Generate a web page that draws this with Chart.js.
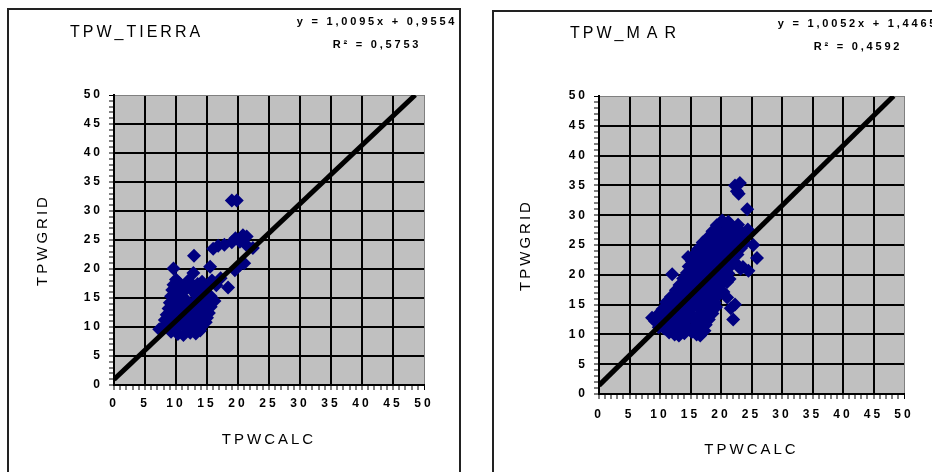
<!DOCTYPE html>
<html>
<head>
<meta charset="utf-8">
<script src="https://cdn.jsdelivr.net/npm/chart.js@4/dist/chart.umd.min.js"></script>
<style>
  body { margin: 0; background: #fff; width: 932px; height: 472px; overflow: hidden; position: relative;
         font-family: "Liberation Sans", Arial, sans-serif; color: #000; }
  .frame { position: absolute; border: 2px solid #222; box-sizing: border-box; }
  .panel { position: absolute; top: 0; }
  .title { position: absolute; font-size: 16px; letter-spacing: 3px; white-space: nowrap; line-height: 1; }
  .eq { position: absolute; width: 200px; font-size: 11px; font-weight: bold; letter-spacing: 2.8px;
        text-align: center; white-space: nowrap; line-height: 1; }
</style>
</head>
<body>
<div class="frame" style="left:7px; top:8px; width:454px; height:500px;"></div>
<div class="frame" style="left:492px; top:10px; width:500px; height:500px;"></div>

<canvas id="chartTierra" class="panel" style="left:0px;" width="466" height="472"></canvas>
<canvas id="chartMar" class="panel" style="left:470px;" width="462" height="472"></canvas>

<div class="title" style="left:70px; top:24px;">TPW_TIERRA</div>
<div class="eq" style="left:277px; top:16px;">y = 1,0095x + 0,9554</div>
<div class="eq" style="left:277px; top:39px;">R² = 0,5753</div>

<div class="title" style="left:570px; top:25px;">TPW_<span style="letter-spacing:7px">MAR</span></div>
<div class="eq" style="left:758px; top:18px;">y = 1,0052x + 1,4465</div>
<div class="eq" style="left:758px; top:41px;">R² = 0,4592</div>

<script>
// axis range shared by both panels
const axisMin = 0;
const axisMax = 50;
const majorStep = 5;

const xTitle = 'TPWCALC';
const yTitle = 'TPWGRID';

// TPW_TIERRA scatter, [TPWCALC, TPWGRID]
const tierraPoints = [
  [9.2,9.2],[10.3,8.8],[11.2,8.6],[12.3,9.0],[13.2,8.9],[13.9,9.4],
  [7.3,9.6],[8.0,10.1],[9.1,10.3],[10.2,9.9],[11.1,10.4],[12.0,10.0],[13.0,10.3],[14.1,10.1],[14.8,10.8],
  [8.2,11.2],[9.3,11.0],[10.1,11.4],[11.3,11.1],[12.2,11.5],[13.1,11.0],[14.0,11.4],[15.0,11.6],
  [8.5,12.1],[9.4,12.4],[10.4,12.0],[11.2,12.5],[12.3,12.2],[13.3,12.6],[14.2,12.1],[15.3,12.4],
  [8.8,13.2],[9.6,13.5],[10.6,13.1],[11.6,13.4],[12.5,13.0],[13.5,13.6],[14.5,13.2],[15.6,13.5],
  [9.0,14.2],[9.9,14.6],[10.8,14.1],[11.8,14.5],[13.0,14.3],[14.0,14.8],[15.0,14.2],[16.2,14.5],
  [9.2,15.3],[10.0,15.8],[11.0,15.2],[13.3,15.4],[14.5,15.7],[15.6,15.3],
  [9.4,16.4],[10.3,16.8],[11.3,16.2],[12.4,16.5],[14.0,16.3],[15.0,16.9],
  [9.6,17.3],[10.5,17.6],[11.5,17.2],[13.5,17.4],
  [10.0,18.2],[12.0,18.0],[14.2,17.8],
  [9.6,20.1],[12.8,19.3],[12.9,22.3],[15.5,20.4],[15.8,18.0],[16.5,17.2],[17.2,18.4],[18.4,16.8],
  [19.5,19.8],[20.3,20.7],[21.0,21.0],
  [16.0,23.5],[16.8,24.0],[17.8,24.2],[19.0,24.6],[19.6,25.3],[20.3,24.7],[20.8,25.8],[21.4,25.6],
  [22.4,23.6],[21.3,24.2],
  [19.0,31.8],[19.8,31.8]
];
const tierraTrend = [[0, 0.9554], [48.58, 50]];

// TPW_MAR scatter
const marPoints = [
  [13.1,9.8],[16.6,9.8],
  [11.5,10.3],[12.4,10.0],[14.0,10.2],[15.2,10.4],[16.0,10.0],[17.3,10.6],
  [9.8,11.2],[10.7,11.0],[11.8,11.4],[13.0,11.1],[14.2,11.5],[15.3,11.0],[16.4,11.3],[17.5,11.6],
  [9.2,12.2],[10.2,12.5],[11.2,12.0],[12.3,12.4],[13.5,12.1],[14.6,12.6],[15.8,12.3],[16.9,12.0],[18.0,12.5],
  [8.7,12.8],[9.7,13.4],[10.8,13.1],[12.0,13.5],[13.1,13.2],[14.3,13.6],[15.4,13.0],[16.5,13.4],[17.6,13.1],[18.6,13.5],[22.0,12.5],
  [10.4,14.2],[11.5,14.6],[12.6,14.1],[13.8,14.4],[15.0,14.2],[16.1,14.7],[17.2,14.3],[18.3,14.1],[19.2,14.6],[21.6,14.4],
  [11.0,15.4],[12.2,15.2],[13.3,15.6],[14.5,15.1],[15.7,15.5],[16.8,15.2],[17.9,15.6],[19.0,15.3],[22.3,15.0],
  [11.8,16.3],[13.0,16.6],[14.2,16.1],[15.3,16.5],[16.4,16.2],[17.5,16.7],[18.6,16.3],[19.6,16.6],[21.0,16.2],
  [12.6,17.4],[13.7,17.1],[14.9,17.6],[16.0,17.2],[17.1,17.5],[18.2,17.1],[19.3,17.6],[20.4,17.1],
  [13.2,18.3],[14.4,18.6],[15.5,18.2],[16.6,18.5],[17.8,18.2],[18.9,18.7],[20.0,18.4],[21.0,18.8],
  [13.8,19.4],[15.0,19.2],[16.1,19.6],[17.2,19.3],[18.4,19.5],[19.5,19.1],[20.6,19.6],[21.4,19.3],
  [12.0,20.1],[14.4,20.3],[15.5,20.6],[16.7,20.2],[17.8,20.5],[18.9,20.1],[20.0,20.4],[21.2,20.2],[24.5,20.7],[23.6,21.3],
  [14.7,21.4],[15.8,21.2],[17.0,21.6],[18.2,21.3],[19.3,21.6],[20.5,21.2],[21.6,21.5],[23.2,21.0],
  [15.2,22.3],[16.3,22.6],[17.5,22.2],[18.7,22.5],[19.8,22.1],[21.0,22.4],[22.2,22.2],
  [14.6,23.0],[15.6,23.4],[16.8,23.1],[18.0,23.5],[19.2,23.2],[20.4,23.5],[21.5,23.2],[22.7,23.4],[25.9,22.8],
  [16.2,24.3],[17.4,24.1],[18.6,24.5],[19.8,24.2],[21.0,24.4],[22.2,24.1],[23.3,24.5],
  [17.0,25.4],[18.2,25.1],[19.4,25.5],[20.6,25.2],[21.8,25.5],[23.0,25.1],[24.0,25.4],[25.3,25.0],
  [17.8,26.2],[19.0,26.5],[20.2,26.2],[21.4,26.6],[22.6,26.3],[23.8,26.1],
  [18.6,27.3],[19.7,27.1],[20.8,27.5],[22.0,27.2],[23.2,27.4],[24.4,27.6],
  [19.3,28.3],[20.5,28.6],[21.6,28.2],[22.8,28.4],
  [20.2,29.1],[21.2,28.9],
  [24.3,31.0],[22.3,35.0],[23.1,35.4],[22.6,34.0],[22.9,33.6]
];
const marTrend = [[0, 1.4465], [48.30, 50]];

// grey plot area + spaced lettering like the old Excel fonts
const plotBackground = {
  id: 'plotBackground',
  beforeDraw(chart) {
    const { ctx, chartArea: a } = chart;
    ctx.letterSpacing = '3px';
    ctx.save();
    ctx.fillStyle = '#c0c0c0';
    ctx.fillRect(a.left, a.top, a.right - a.left, a.bottom - a.top);
    ctx.restore();
  }
};

function toXY(list) {
  return list.map(p => ({ x: p[0], y: p[1] }));
}

function makeAxis(isX, size, titlePad, tickPad, text) {
  return {
    type: 'linear',
    min: axisMin,
    max: axisMax,
    afterFit: s => { if (isX) s.height = size; else s.width = size; },
    ticks: {
      stepSize: 1,
      maxTicksLimit: 100,
      autoSkip: false,
      maxRotation: 0,
      padding: tickPad,
      color: '#000',
      font: { family: 'Liberation Sans', size: 12, weight: 'bold' },
      callback: v => (v % majorStep === 0 ? String(v) : '')
    },
    grid: {
      color: c => {
        if (!c.tick) return 'transparent';
        if (c.tick.value === axisMax) return '#808080';
        return c.tick.value % majorStep === 0 ? '#000' : 'transparent';
      },
      lineWidth: c => (c.tick && c.tick.value === axisMax ? 1 : 2),
      tickColor: '#000',
      tickWidth: 1,
      tickLength: 5
    },
    border: { color: '#000', width: 2 },
    title: {
      display: true,
      text: text,
      color: '#000',
      font: { family: 'Liberation Sans', size: 15 },
      padding: isX ? { top: 0, bottom: titlePad } : { top: titlePad, bottom: 0 }
    }
  };
}

function makeChart(id, points, trend, pad, dims) {
  return new Chart(document.getElementById(id), {
    type: 'scatter',
    data: {
      datasets: [
        {
          data: toXY(trend),
          showLine: true,
          borderColor: '#000',
          borderWidth: 5,
          pointRadius: 0,
          order: 0
        },
        {
          data: toXY(points),
          pointStyle: 'rectRot',
          pointRadius: 7,
          pointBackgroundColor: '#000080',
          pointBorderColor: '#000080',
          pointBorderWidth: 0,
          order: 1
        }
      ]
    },
    options: {
      responsive: false,
      animation: false,
      events: [],
      layout: { padding: pad },
      plugins: { legend: { display: false }, tooltip: { enabled: false } },
      scales: {
        x: makeAxis(true, dims.xHeight, dims.xTitlePad, dims.xTickPad, xTitle),
        y: makeAxis(false, dims.yWidth, dims.yTitlePad, dims.yTickPad, yTitle)
      }
    },
    plugins: [plotBackground]
  });
}

makeChart('chartTierra', tierraPoints, tierraTrend,
  { top: 95, right: 42, left: 0, bottom: 0 },
  { xHeight: 87, xTitlePad: 23, xTickPad: 6, yWidth: 114, yTitlePad: 34, yTickPad: 6 });

makeChart('chartMar', marPoints, marTrend,
  { top: 96, right: 28, left: 0, bottom: 0 },
  { xHeight: 78, xTitlePad: 13, xTickPad: 8, yWidth: 129, yTitlePad: 47, yTickPad: 6 });
</script>
</body>
</html>
